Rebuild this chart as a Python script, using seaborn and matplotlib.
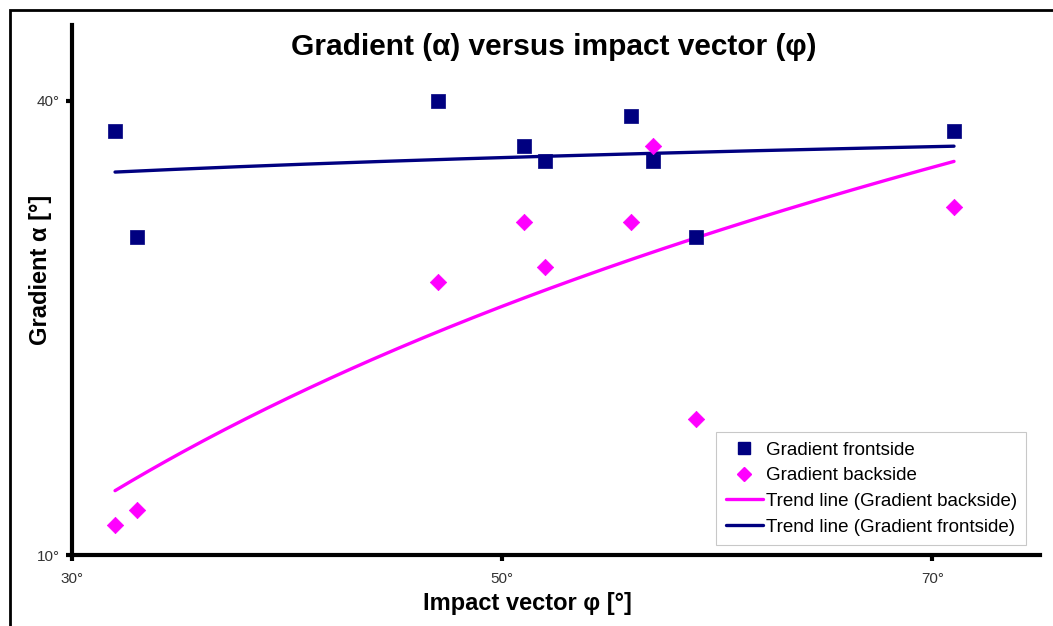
import matplotlib
matplotlib.use("Agg")
import matplotlib.pyplot as plt
import numpy as np
import pandas as pd
import seaborn as sns
from matplotlib.lines import Line2D
from matplotlib.patches import Rectangle

# impact vector (deg) per measurement
impact = [32, 33, 47, 51, 52, 56, 57, 59, 71]
gradient_front = [38, 31, 40, 37, 36, 39, 36, 31, 38]
gradient_back = [12, 13, 28, 32, 29, 32, 37, 19, 33]

x_ticks = [30, 50, 70]
y_ticks = [10, 40]

NAVY = "#000080"
MAGENTA = "#ff00ff"


def log_trend(x, y, n=200):
    # logarithmic trend line, y = a + b*ln(x)
    b, a = np.polyfit(np.log(x), y, 1)
    xs = np.linspace(min(x), max(x), n)
    return pd.DataFrame({"x": xs, "y": a + b * np.log(xs)})


sns.set_style("white")
plt.rcParams["font.family"] = ["Liberation Sans", "DejaVu Sans"]
plt.rcParams["text.color"] = "black"
plt.rcParams["axes.labelcolor"] = "black"

points = pd.DataFrame({"impact": impact, "front": gradient_front, "back": gradient_back})
trend_back = log_trend(impact, gradient_back)
trend_front = log_trend(impact, gradient_front)

fig = plt.figure(figsize=(10.53, 6.26), dpi=100)
ax = fig.add_axes([0.0684, 0.1134, 0.9193, 0.8466])

sns.lineplot(data=trend_front, x="x", y="y", ax=ax, color=NAVY, linewidth=2.4, zorder=2)
sns.lineplot(data=trend_back, x="x", y="y", ax=ax, color=MAGENTA, linewidth=2.4, zorder=2)
sns.scatterplot(data=points, x="impact", y="front", ax=ax, marker="s", s=100,
                color=NAVY, edgecolor=NAVY, linewidth=0.5, zorder=3)
sns.scatterplot(data=points, x="impact", y="back", ax=ax, marker="D", s=70,
                color=MAGENTA, edgecolor=MAGENTA, linewidth=0.5, zorder=3)

ax.set_xlim(30, 75)
ax.set_ylim(10, 45)
ax.set_xticks(x_ticks)
ax.set_xticklabels([f"{t}°" for t in x_ticks])
ax.set_yticks(y_ticks)
ax.set_yticklabels([f"{t}°" for t in y_ticks])
ax.tick_params(axis="both", direction="out", length=4, width=3, color="black",
               labelsize=11, labelcolor="#333333", bottom=True, left=True)
ax.tick_params(axis="x", pad=8)
ax.tick_params(axis="y", pad=5)

for side in ["top", "right"]:
    ax.spines[side].set_visible(False)
for side in ["left", "bottom"]:
    ax.spines[side].set_linewidth(3)
    ax.spines[side].set_color("black")

ax.set_xlabel("Impact vector φ [°]", fontsize=17, fontweight="bold", va="center")
ax.set_ylabel("Gradient α [°]", fontsize=17, fontweight="bold", va="center")
ax.xaxis.set_label_coords((527 - 72) / 968, -(603 - 555) / 530)
ax.yaxis.set_label_coords((40 - 72) / 968, (555 - 270) / 530)
fig.text(554 / 1053, 1 - 47 / 626, "Gradient (α) versus impact vector (φ)",
         ha="center", va="center", fontsize=21.5, fontweight="bold")

handles = [
    Line2D([], [], marker="s", color=NAVY, linestyle="none", markersize=8),
    Line2D([], [], marker="D", color=MAGENTA, linestyle="none", markersize=7),
    Line2D([], [], color=MAGENTA, linewidth=2.4),
    Line2D([], [], color=NAVY, linewidth=2.4),
]
labels = [
    "Gradient frontside",
    "Gradient backside",
    "Trend line (Gradient backside)",
    "Trend line (Gradient frontside)",
]
leg = ax.legend(handles, labels, loc="lower right", bbox_to_anchor=(0.986, 0.019),
                fontsize=13.5, frameon=True, fancybox=False, handlelength=2.0,
                handletextpad=0.15, labelspacing=0.45, borderpad=0.5,
                borderaxespad=0)
leg.get_frame().set_edgecolor("#bbbbbb")
leg.get_frame().set_linewidth(0.8)

# page frame around the figure
fig.patches.append(Rectangle((10 / 1053, -0.05), 1.1, 1 - 10 / 626 + 0.05,
                             transform=fig.transFigure, fill=False,
                             edgecolor="black", linewidth=2, zorder=0))

fig.savefig("out.png", dpi=100)
